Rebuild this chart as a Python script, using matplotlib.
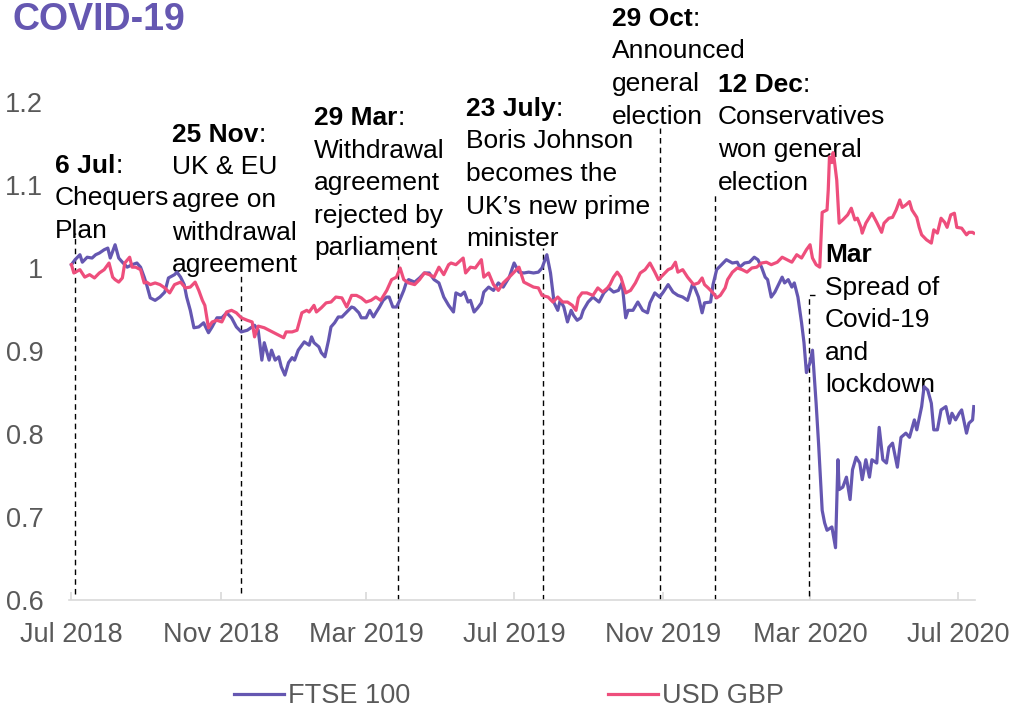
import pandas as pd
import matplotlib
matplotlib.use("Agg")
import matplotlib.pyplot as plt
import matplotlib.dates as mdates
from matplotlib.ticker import FuncFormatter

plt.rcParams["font.family"] = ["Liberation Sans", "DejaVu Sans"]

W, H = 1009, 712
START = pd.Timestamp("2018-07-01")

# FTSE 100 (rebased), days since 1 Jul 2018
ftse_days = [0, 3, 7, 9, 13, 17, 20, 23, 27, 30, 32, 36, 39, 42, 46, 50, 54, 57, 60, 62,
             65, 69, 73, 77, 80, 85, 87, 90, 93, 95, 98, 101, 105, 109, 113, 116, 120, 124, 128, 132,
             136, 140, 145, 149, 151, 154, 157, 159, 163, 165, 168, 171, 173, 176, 179, 182, 184, 187, 190, 192,
             196, 198, 200, 204, 206, 209, 212, 214, 217, 220, 223, 227, 231, 233, 237, 239, 243, 246, 249, 251,
             254, 257, 260, 262, 265, 268, 270, 274, 276, 278, 283, 287, 291, 295, 299, 303, 307, 311, 315, 317,
             321, 324, 327, 329, 332, 335, 338, 340, 344, 348, 352, 356, 361, 365, 369, 373, 377, 381, 385, 388,
             392, 395, 398, 401, 403, 406, 409, 412, 414, 417, 420, 422, 426, 430, 435, 439, 443, 447, 451, 454,
             457, 459, 463, 467, 471, 475, 477, 481, 485, 488, 492, 496, 500, 504, 508, 512, 514, 517, 520, 522,
             527, 529, 532, 536, 540, 545, 549, 551, 555, 559, 563, 566, 569, 572, 574, 577, 580, 582, 586, 588,
             591, 594, 596, 599, 602, 604, 606, 609, 611, 614, 616, 619, 621, 623, 627, 630, 632, 633, 636, 639,
             642, 644, 647, 650, 652, 655, 658, 660, 664, 666, 669, 672, 674, 677, 681, 684, 688, 691, 695, 697,
             701, 703, 706, 709, 711, 714, 717, 721, 724, 726, 729, 732, 734, 738, 740, 743, 744]
ftse_vals = [1.004, 1.010, 1.016, 1.007, 1.013, 1.012, 1.016, 1.018, 1.022, 1.024, 1.012, 1.028, 1.012, 1.007, 1.001, 1.004, 1.006, 1.001, 0.989, 0.980,
             0.964, 0.961, 0.965, 0.971, 0.988, 0.992, 0.995, 0.989, 0.980, 0.965, 0.949, 0.928, 0.929, 0.934, 0.922, 0.929, 0.940, 0.940, 0.946, 0.940,
             0.929, 0.923, 0.925, 0.929, 0.931, 0.925, 0.889, 0.910, 0.889, 0.901, 0.889, 0.893, 0.881, 0.871, 0.886, 0.892, 0.889, 0.901, 0.907, 0.911,
             0.907, 0.917, 0.910, 0.905, 0.898, 0.893, 0.913, 0.929, 0.934, 0.941, 0.941, 0.947, 0.953, 0.952, 0.946, 0.940, 0.940, 0.949, 0.941, 0.946,
             0.953, 0.961, 0.965, 0.965, 0.953, 0.953, 0.959, 0.973, 0.982, 0.986, 0.983, 0.988, 0.994, 0.994, 0.986, 0.982, 0.965, 0.955, 0.947, 0.970,
             0.967, 0.971, 0.959, 0.961, 0.947, 0.952, 0.958, 0.971, 0.977, 0.973, 0.982, 0.977, 0.989, 1.006, 0.995, 0.994, 0.995, 0.994, 0.995, 1.000,
             1.016, 0.994, 0.958, 0.949, 0.961, 0.953, 0.935, 0.949, 0.943, 0.937, 0.940, 0.949, 0.959, 0.965, 0.959, 0.970, 0.976, 0.971, 0.973, 0.982,
             0.940, 0.949, 0.949, 0.959, 0.949, 0.946, 0.958, 0.970, 0.965, 0.971, 0.980, 0.971, 0.967, 0.965, 0.961, 0.980, 0.976, 0.965, 0.946, 0.958,
             0.959, 0.980, 0.998, 1.004, 1.010, 1.006, 1.007, 1.001, 1.006, 1.007, 1.013, 1.010, 1.001, 0.989, 0.986, 0.965, 0.971, 0.977, 0.989, 0.982,
             0.986, 0.977, 0.982, 0.965, 0.934, 0.910, 0.874, 0.886, 0.901, 0.837, 0.789, 0.708, 0.693, 0.684, 0.688, 0.663, 0.769, 0.733, 0.736, 0.748,
             0.721, 0.757, 0.772, 0.765, 0.745, 0.769, 0.748, 0.769, 0.765, 0.808, 0.769, 0.765, 0.784, 0.789, 0.760, 0.796, 0.801, 0.796, 0.817, 0.805,
             0.833, 0.857, 0.853, 0.837, 0.805, 0.805, 0.829, 0.833, 0.813, 0.825, 0.817, 0.825, 0.829, 0.801, 0.813, 0.817, 0.833]

# USD GBP (rebased), days since 1 Jul 2018
gbp_days = [0, 2, 7, 11, 15, 19, 23, 27, 31, 34, 36, 39, 42, 44, 48, 50, 53, 57, 60, 62,
            65, 69, 73, 77, 81, 85, 90, 94, 98, 102, 105, 108, 110, 113, 116, 120, 124, 128, 132, 136,
            140, 145, 149, 151, 154, 159, 163, 167, 171, 175, 177, 182, 186, 190, 194, 196, 200, 202, 206, 210,
            214, 218, 223, 227, 231, 235, 239, 243, 247, 251, 255, 260, 264, 268, 271, 274, 278, 283, 287, 291,
            295, 299, 303, 307, 311, 313, 317, 323, 325, 329, 333, 338, 340, 344, 348, 352, 356, 361, 365, 369,
            373, 377, 381, 385, 388, 393, 397, 401, 405, 409, 413, 416, 418, 421, 425, 430, 434, 438, 442, 444,
            447, 450, 453, 457, 461, 465, 469, 473, 477, 481, 484, 488, 492, 495, 498, 500, 504, 508, 513, 517,
            520, 522, 525, 529, 532, 535, 539, 541, 545, 549, 553, 557, 561, 565, 569, 573, 577, 582, 586, 590,
            594, 598, 602, 606, 609, 611, 614, 617, 619, 623, 624, 625, 627, 628, 629, 631, 633, 636, 640, 643,
            646, 648, 651, 652, 655, 660, 664, 668, 670, 674, 677, 680, 683, 685, 688, 691, 693, 697, 699, 701,
            705, 709, 711, 714, 717, 720, 722, 725, 728, 730, 734, 738, 740, 743, 744]
gbp_vals = [1.004, 0.994, 0.998, 0.989, 0.992, 0.988, 0.994, 0.998, 1.006, 0.989, 0.986, 0.983, 0.988, 1.006, 1.013, 1.001, 1.001, 0.998, 0.982, 0.983,
            0.980, 0.982, 0.980, 0.976, 0.970, 0.980, 0.983, 0.976, 0.977, 0.983, 0.973, 0.961, 0.955, 0.928, 0.935, 0.937, 0.935, 0.947, 0.949, 0.946,
            0.940, 0.937, 0.935, 0.917, 0.930, 0.928, 0.925, 0.922, 0.919, 0.916, 0.923, 0.923, 0.925, 0.946, 0.949, 0.947, 0.955, 0.947, 0.952, 0.958,
            0.959, 0.965, 0.964, 0.953, 0.967, 0.967, 0.964, 0.959, 0.961, 0.965, 0.961, 0.973, 0.986, 0.989, 1.000, 0.986, 0.982, 0.980, 0.986, 0.994,
            0.992, 0.989, 1.001, 0.992, 1.004, 1.006, 1.004, 1.012, 0.994, 1.001, 1.000, 1.010, 0.989, 0.994, 0.980, 0.973, 0.982, 0.989, 0.995, 1.001,
            0.983, 0.980, 0.977, 0.976, 0.967, 0.965, 0.959, 0.965, 0.959, 0.959, 0.955, 0.949, 0.964, 0.970, 0.970, 0.967, 0.976, 0.971, 0.976, 0.980,
            0.989, 0.995, 0.989, 0.970, 0.973, 0.982, 0.994, 0.998, 1.006, 0.995, 0.986, 0.992, 0.998, 1.000, 1.007, 0.995, 0.998, 0.989, 0.980, 0.982,
            0.988, 0.980, 0.976, 0.970, 0.964, 0.967, 0.976, 0.986, 0.995, 1.000, 0.998, 0.995, 1.000, 1.001, 1.006, 1.007, 1.004, 1.007, 1.013, 1.010,
            1.007, 1.016, 1.012, 1.022, 1.028, 1.012, 1.004, 1.001, 1.067, 1.070, 1.094, 1.134, 1.127, 1.139, 1.130, 1.106, 1.054, 1.058, 1.064, 1.072,
            1.058, 1.060, 1.049, 1.042, 1.054, 1.066, 1.055, 1.043, 1.054, 1.060, 1.061, 1.070, 1.082, 1.073, 1.076, 1.080, 1.070, 1.061, 1.049, 1.040,
            1.034, 1.030, 1.046, 1.042, 1.060, 1.055, 1.049, 1.064, 1.066, 1.049, 1.048, 1.040, 1.043, 1.043, 1.042]

# events: where the dashed marker sits on the chart, and how high it reaches
event_dates = ["2018-07-04", "2018-11-18", "2019-03-27", "2019-07-25",
               "2019-10-29", "2019-12-14", "2020-02-29"]
event_tops = [1.042, 0.992, 1.015, 1.024, 1.169, 1.092, 0.967]
event_bottoms = [0.607, 0.608, 0.600, 0.600, 0.600, 0.600, 0.600]

event_heads = ["6 Jul", "25 Nov", "29 Mar", "23 July", "29 Oct", "12 Dec", "Mar"]
event_tails = [":", ":", ":", ":", ":", ":", ""]
event_texts = [["Chequers", "Plan"],
               ["UK & EU", "agree on", "withdrawal", "agreement"],
               ["Withdrawal", "agreement", "rejected by", "parliament"],
               ["Boris Johnson", "becomes the", "UK\u2019s new prime", "minister"],
               ["Announced", "general", "election"],
               ["Conservatives", "won general", "election"],
               ["Spread of", "Covid-19", "and", "lockdown"]]
# label anchor (pixel x, baseline y of first line)
event_label_pos = [(55, 173), (172, 142), (314, 125), (466, 116),
                   (612, 26), (718, 92), (825, 262)]

PURPLE = "#6557B1"
PINK = "#EE4E7C"
GREY = "#595959"

fig = plt.figure(figsize=(W / 100, H / 100), dpi=100)
ax = fig.add_axes([69 / W, 1 - 600 / H, (975 - 69) / W, (600 - 102) / H])

ftse_x = START + pd.to_timedelta(ftse_days, unit="D")
gbp_x = START + pd.to_timedelta(gbp_days, unit="D")
ax.plot(ftse_x, ftse_vals, color=PURPLE, lw=2.3, label="FTSE 100", zorder=3)
ax.plot(gbp_x, gbp_vals, color=PINK, lw=2.3, label="USD GBP", zorder=3)

for i, d in enumerate(event_dates):
    d = pd.Timestamp(d)
    if event_heads[i] == "Mar":
        xs = [d + pd.Timedelta(days=5), d, d]
        ys = [event_tops[i], event_tops[i], event_bottoms[i]]
    else:
        xs = [d, d]
        ys = [event_bottoms[i], event_tops[i]]
    ax.plot(xs, ys, color="black", lw=1.0, ls=(0, (4, 3)), zorder=2)

ax.set_ylim(0.6, 1.2)
ax.set_xlim(pd.Timestamp("2018-06-29"), pd.Timestamp("2020-07-15"))
ax.set_yticks([0.6, 0.7, 0.8, 0.9, 1.0, 1.1, 1.2])
ax.yaxis.set_major_formatter(FuncFormatter(lambda v, p: f"{v:g}"))
ax.xaxis.set_major_locator(mdates.MonthLocator(bymonth=[3, 7, 11]))
ax.xaxis.set_major_formatter(mdates.DateFormatter("%b %Y"))

for s in ["top", "right", "left"]:
    ax.spines[s].set_visible(False)
ax.spines["bottom"].set_color("#D9D9D9")
ax.spines["bottom"].set_linewidth(1.2)
ax.tick_params(axis="y", length=0, pad=18.5, labelsize=19.5, labelcolor=GREY)
ax.tick_params(axis="x", direction="in", length=6, width=1.2, color="#D9D9D9",
               pad=16, labelsize=19.5, labelcolor=GREY)
ax.patch.set_alpha(0)

# title
ax.text(12 / W, 1 - 30 / H, "COVID-19", transform=fig.transFigure, fontsize=27,
        fontweight="bold", color=PURPLE, va="baseline", ha="left")

# event annotations (below the lines)
fs = 19
step = 32.5
renderer = fig.canvas.get_renderer()
for (px, py), head, tail, lines in zip(event_label_pos, event_heads, event_tails, event_texts):
    t = ax.text(px / W, 1 - py / H, head, transform=fig.transFigure, fontsize=fs,
                fontweight="bold", va="baseline", ha="left", zorder=1)
    if tail:
        bb = t.get_window_extent(renderer)
        ax.text(bb.x1 / W, 1 - py / H, tail, transform=fig.transFigure, fontsize=fs,
                va="baseline", ha="left", zorder=1)
    for k, line in enumerate(lines):
        ax.text(px / W, 1 - (py + step * (k + 1)) / H, line, transform=fig.transFigure,
                fontsize=fs, va="baseline", ha="left", zorder=1)

fig.legend(loc="center", bbox_to_anchor=(509 / W, 1 - 696 / H), ncol=2, frameon=False,
           fontsize=19.5, handlelength=1.85, handletextpad=0.15, columnspacing=7.3,
           labelcolor=GREY)

fig.savefig("out.png", dpi=100)
